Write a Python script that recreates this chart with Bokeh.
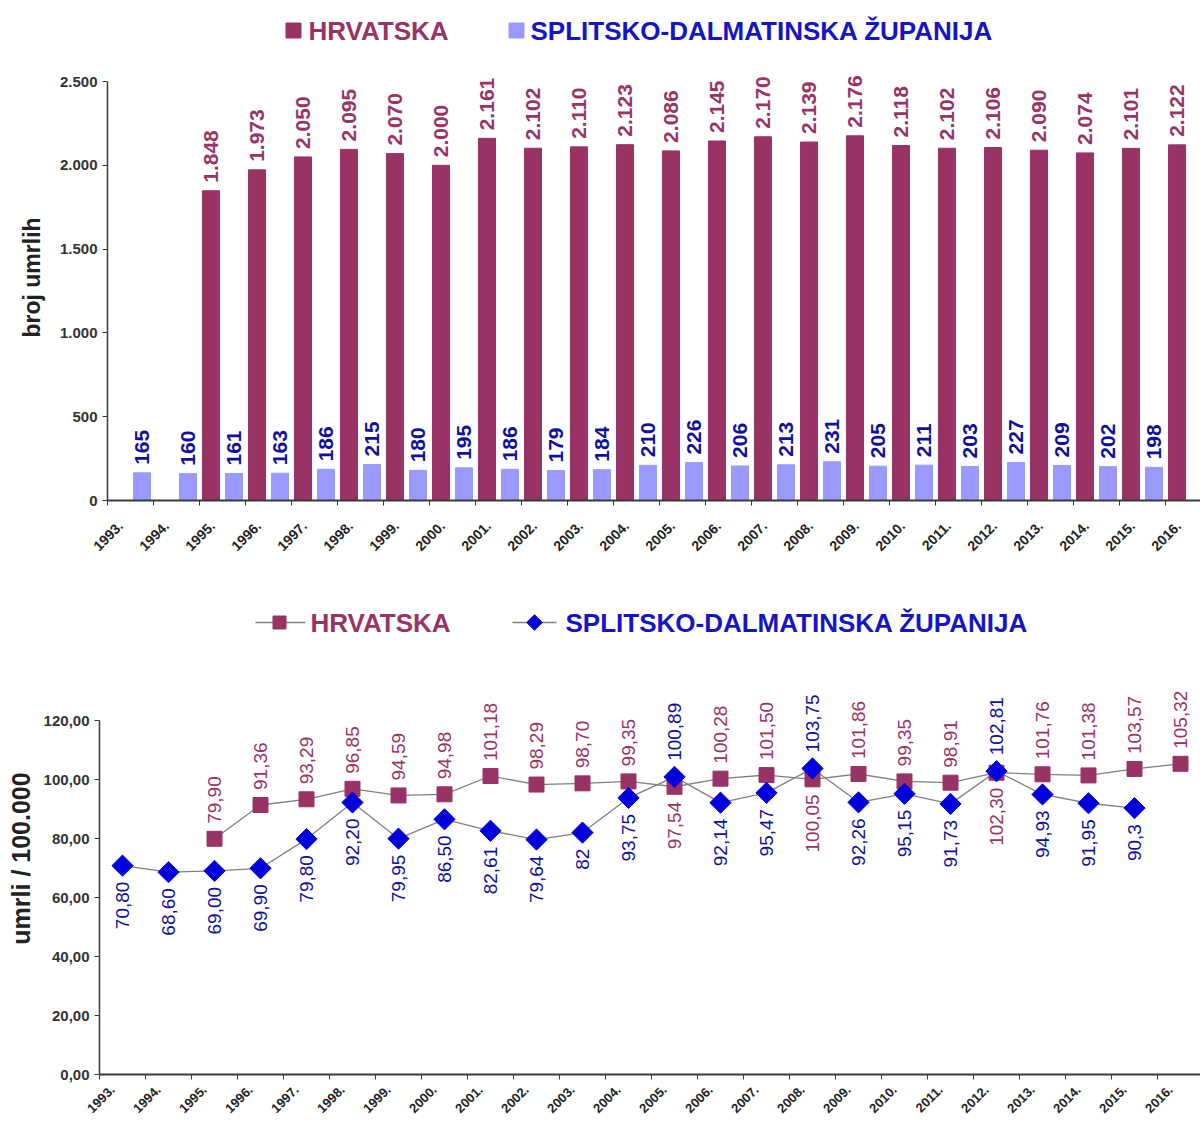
import math
from bokeh.plotting import figure
from bokeh.models import Range1d, FixedTicker, LinearAxis
from bokeh.layouts import column
from bokeh.embed import file_html
from bokeh.resources import INLINE
from bokeh.core.properties import value

# ---------------- data ----------------
years = ["1993.", "1994.", "1995.", "1996.", "1997.", "1998.", "1999.", "2000.",
         "2001.", "2002.", "2003.", "2004.", "2005.", "2006.", "2007.", "2008.",
         "2009.", "2010.", "2011.", "2012.", "2013.", "2014.", "2015.", "2016."]

hr_deaths = [None, None, 1848, 1973, 2050, 2095, 2070, 2000, 2161, 2102, 2110, 2123,
             2086, 2145, 2170, 2139, 2176, 2118, 2102, 2106, 2090, 2074, 2101, 2122]
spl_deaths = [165, 160, 161, 163, 186, 215, 180, 195, 186, 179, 184, 210,
              226, 206, 213, 231, 205, 211, 203, 227, 209, 202, 198, None]

hr_rate = [None, None, 79.90, 91.36, 93.29, 96.85, 94.59, 94.98, 101.18, 98.29, 98.70, 99.35,
           97.54, 100.28, 101.50, 100.05, 101.86, 99.35, 98.91, 102.30, 101.76, 101.38, 103.57, 105.32]
spl_rate = [70.80, 68.60, 69.00, 69.90, 79.80, 92.20, 79.95, 86.50, 82.61, 79.64, 82, 93.75,
            100.89, 92.14, 95.47, 103.75, 92.26, 95.15, 91.73, 102.81, 94.93, 91.95, 90.3, None]
spl_rate_printed = {"2003.": "82", "2015.": "90,3"}

top_ticks = [0, 500, 1000, 1500, 2000, 2500]
top_tick_labels = ["0", "500", "1.000", "1.500", "2.000", "2.500"]
bot_ticks = [0, 20, 40, 60, 80, 100, 120]
bot_tick_labels = ["0,00", "20,00", "40,00", "60,00", "80,00", "100,00", "120,00"]

series_names = ["HRVATSKA", "SPLITSKO-DALMATINSKA ŽUPANIJA"]

# ---------------- styles ----------------
FONT = value("Liberation Sans")
RED = "#993366"
LBLUE = "#9999FF"
BLUE_TXT = "#10109E"
BLUE_LEG = "#1414C8"
BLUE_MK = "#0000DD"
GRAY = "#808080"
AXIS = "#3a3a3a"
W = 1200
SLOT = 46.0
LABEL_SHIFT = 0.28   # year labels sit a little to the right of their tick, as in the original


def style_axes(p, x_end, yticks, ylabels, ytop, ylabel, label_standoff,
               xlabel_size, ylabel_size, xlabel_standoff):
    p.grid.visible = False
    p.outline_line_color = None
    n = len(years)
    base = p.xaxis[0]
    base.ticker = FixedTicker(ticks=list(range(n)))
    base.major_label_overrides = {i: "" for i in range(n)}
    base.major_label_standoff = 0
    base.axis_line_width = 2
    base.axis_line_color = AXIS
    base.major_tick_line_color = AXIS
    base.major_tick_out = 5
    base.major_tick_in = 0
    base.minor_tick_line_color = None

    p.extra_x_ranges = {"lab": Range1d(-LABEL_SHIFT, x_end - LABEL_SHIFT)}
    lab = LinearAxis(x_range_name="lab", ticker=FixedTicker(ticks=list(range(n))),
                     major_label_overrides={i: y for i, y in enumerate(years)},
                     major_label_orientation=math.pi / 4,
                     major_label_text_font="Liberation Sans",
                     major_label_text_font_style="bold",
                     major_label_text_font_size=xlabel_size,
                     major_label_text_color="#222222",
                     major_label_standoff=xlabel_standoff,
                     axis_line_color=None, major_tick_line_color=None,
                     minor_tick_line_color=None)
    p.add_layout(lab, "below")

    p.yaxis.ticker = FixedTicker(ticks=yticks)
    p.yaxis.major_label_overrides = dict(zip(yticks, ylabels))
    p.yaxis.bounds = (0, ytop)
    p.yaxis.major_label_text_font = "Liberation Sans"
    p.yaxis.major_label_text_font_style = "bold"
    p.yaxis.major_label_text_font_size = "15px"
    p.yaxis.major_label_text_color = "#333333"
    p.yaxis.axis_line_width = 1.5
    p.yaxis.axis_line_color = AXIS
    p.yaxis.major_tick_line_color = AXIS
    p.yaxis.major_tick_out = 5
    p.yaxis.major_tick_in = 0
    p.yaxis.minor_tick_line_color = None
    p.yaxis.axis_label = ylabel
    p.yaxis.axis_label_text_font = "Liberation Sans"
    p.yaxis.axis_label_text_font_style = "bold"
    p.yaxis.axis_label_text_font_size = ylabel_size
    p.yaxis.axis_label_text_color = "#222222"
    p.yaxis.axis_label_standoff = label_standoff


def legend_fig(height):
    f = figure(width=W, height=height, x_range=Range1d(0, W), y_range=Range1d(0, height),
               x_axis_type=None, y_axis_type=None, output_backend="svg",
               toolbar_location=None, min_border=0, frame_align=False)
    f.grid.visible = False
    f.outline_line_color = None
    return f


# ---------------- legend 1 ----------------
leg1 = legend_fig(54)
leg1.scatter([293], [24], marker="square", size=15, color=RED)
leg1.scatter([516], [24], marker="square", size=15, color=LBLUE)
leg1.text([308], [24], text=[series_names[0]], text_font=FONT, text_font_style="bold",
          text_font_size="26px", text_color=RED, text_baseline="middle", text_align="left")
leg1.text([530], [24], text=[series_names[1]], text_font=FONT, text_font_style="bold",
          text_font_size="26px", text_color=BLUE_LEG, text_baseline="middle", text_align="left")

# ---------------- top bar chart ----------------
top_px_per_unit = 419.0 / 2500.0
top_x_end = (W - 107) / SLOT
p1 = figure(width=W, height=506, x_range=Range1d(0, top_x_end),
            y_range=Range1d(0, 446 / top_px_per_unit),
            output_backend="svg", toolbar_location=None, frame_align=False,
            min_border_left=107, min_border_right=0, min_border_top=0, min_border_bottom=60)
style_axes(p1, top_x_end, top_ticks, top_tick_labels, 2500, "broj umrlih", 12,
           "14px", "23px", 12)

hx = [i + 0.25 for i, v in enumerate(hr_deaths) if v is not None]
hy = [v for v in hr_deaths if v is not None]
sx = [i + 0.75 for i, v in enumerate(spl_deaths) if v is not None]
sy = [v for v in spl_deaths if v is not None]

p1.vbar(x=hx, top=hy, width=0.37, bottom=0, color=RED)
p1.vbar(x=sx, top=sy, width=0.37, bottom=0, color=LBLUE)
p1.text(hx, hy, text=[f"{v:,}".replace(",", ".") for v in hy], angle=math.pi / 2,
        text_align="left", text_baseline="middle", y_offset=-8, text_font=FONT,
        text_font_style="bold", text_font_size="21px", text_color=RED)
p1.text(sx, sy, text=[str(v) for v in sy], angle=math.pi / 2,
        text_align="left", text_baseline="middle", y_offset=-8, text_font=FONT,
        text_font_style="bold", text_font_size="21px", text_color=BLUE_TXT)

# ---------------- legend 2 ----------------
leg2 = legend_fig(82)
leg2.line([255, 305], [20, 20], line_color=GRAY, line_width=1.5)
leg2.scatter([279], [20], marker="square", size=13, color=RED)
leg2.line([512, 556], [20, 20], line_color=GRAY, line_width=1.5)
leg2.scatter([534], [20], marker="square", angle=math.pi / 4, size=11, color=BLUE_MK)
leg2.text([310], [20], text=[series_names[0]], text_font=FONT, text_font_style="bold",
          text_font_size="26px", text_color=RED, text_baseline="middle", text_align="left")
leg2.text([565], [20], text=[series_names[1]], text_font=FONT, text_font_style="bold",
          text_font_size="26px", text_color=BLUE_LEG, text_baseline="middle", text_align="left")

# ---------------- bottom line chart ----------------
bot_px_per_unit = 354.0 / 120.0
bot_x_end = (W - 99) / SLOT
p2 = figure(width=W, height=482, x_range=Range1d(0, bot_x_end),
            y_range=Range1d(0, 432 / bot_px_per_unit),
            output_backend="svg", toolbar_location=None, frame_align=False,
            min_border_left=99, min_border_right=0, min_border_top=0, min_border_bottom=50)
style_axes(p2, bot_x_end, bot_ticks, bot_tick_labels, 120, "umrli / 100.000", 6,
           "13px", "25px", 2)

rhx = [i + 0.5 for i, v in enumerate(hr_rate) if v is not None]
rhy = [v for v in hr_rate if v is not None]
rsx = [i + 0.5 for i, v in enumerate(spl_rate) if v is not None]
rsy = [v for v in spl_rate if v is not None]

p2.line(rhx, rhy, line_color=GRAY, line_width=1.3)
p2.line(rsx, rsy, line_color=GRAY, line_width=1.3)
p2.scatter(rhx, rhy, marker="square", size=15, color=RED)
p2.scatter(rsx, rsy, marker="square", angle=math.pi / 4, size=15, color=BLUE_MK)


def fmt2(v):
    return f"{v:.2f}".replace(".", ",")


# label placement: the higher of the two series is labelled above, the lower below
r_up_x, r_up_y, r_up_t, r_dn_x, r_dn_y, r_dn_t = [], [], [], [], [], []
s_up_x, s_up_y, s_up_t, s_dn_x, s_dn_y, s_dn_t = [], [], [], [], [], []
for i, yr in enumerate(years):
    hv, sv = hr_rate[i], spl_rate[i]
    if hv is not None:
        if sv is not None and sv > hv:
            r_dn_x.append(i + 0.5); r_dn_y.append(hv); r_dn_t.append(fmt2(hv))
        else:
            r_up_x.append(i + 0.5); r_up_y.append(hv); r_up_t.append(fmt2(hv))
    if sv is not None:
        txt = spl_rate_printed.get(yr, fmt2(sv))
        if hv is not None and sv > hv:
            s_up_x.append(i + 0.5); s_up_y.append(sv); s_up_t.append(txt)
        else:
            s_dn_x.append(i + 0.5); s_dn_y.append(sv); s_dn_t.append(txt)

common = dict(angle=math.pi / 2, text_baseline="middle", text_font=FONT, text_font_size="19px")
p2.text(r_up_x, r_up_y, text=r_up_t, text_align="left", y_offset=-15, text_color=RED, **common)
p2.text(r_dn_x, r_dn_y, text=r_dn_t, text_align="right", y_offset=15, text_color=RED, **common)
p2.text(s_up_x, s_up_y, text=s_up_t, text_align="left", y_offset=-16, text_color=BLUE_TXT, **common)
p2.text(s_dn_x, s_dn_y, text=s_dn_t, text_align="right", y_offset=16, text_color=BLUE_TXT, **common)

layout = column(leg1, p1, leg2, p2)
open("out.html", "w").write(file_html(layout, INLINE))
